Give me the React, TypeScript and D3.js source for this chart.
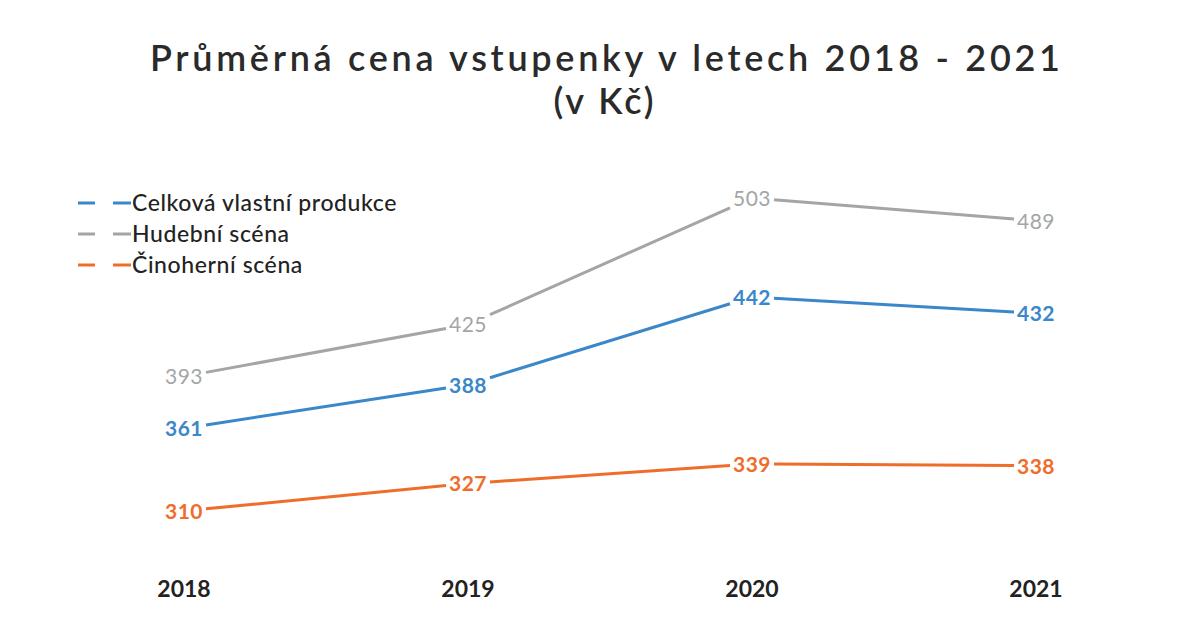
import React from "react";
import * as d3 from "d3";

const years = ["2018", "2019", "2020", "2021"];
const celkova = [361, 388, 442, 432];
const hudebni = [393, 425, 503, 489];
const cinoherni = [310, 327, 339, 338];
const seriesNames = ["Celková vlastní produkce", "Hudební scéna", "Činoherní scéna"];
const seriesColors = ["#3A87C9", "#A3A6A6", "#EF6D2A"];
const seriesBold = [true, false, true];
const titleLines = ["Průměrná cena vstupenky v letech 2018 - 2021", "(v Kč)"];

const W = 1199;
const H = 636;
const FONT = "Lato, 'Open Sans', sans-serif";

export default function App() {
  const x = d3.scalePoint<string>().domain(years).range([184, 1036]);
  const y = d3.scaleLinear().domain([310, 503]).range([511, 198]);
  const all = [celkova, hudebni, cinoherni];
  const gap = 22;

  return (
    <svg width={W} height={H} style={{ position: "absolute", left: 0, top: 0, background: "#fff" }}>
      <rect x={0} y={0} width={W} height={H} fill="#fff" />
      <text x={605} y={71} textAnchor="middle" fontFamily={FONT} fontSize={36} fontWeight={600}
        fill="#2a2a2a" textLength={910} lengthAdjust="spacing">{titleLines[0]}</text>
      <text x={605} y={114} textAnchor="middle" fontFamily={FONT} fontSize={36} fontWeight={600}
        fill="#2a2a2a" letterSpacing={3}>{titleLines[1]}</text>

      {seriesNames.map((n, i) => (
        <g key={n} transform={`translate(0, ${203 + i * 31})`}>
          <line x1={78} x2={95} y1={0} y2={0} stroke={seriesColors[i]} strokeWidth={3} />
          <line x1={113} x2={131} y1={0} y2={0} stroke={seriesColors[i]} strokeWidth={3} />
          <text x={132} y={8} fontFamily={FONT} fontSize={23} fontWeight={500} fill="#222"
            letterSpacing={0.6}>{n}</text>
        </g>
      ))}

      {all.map((vals, si) => (
        <g key={si}>
          {vals.slice(0, -1).map((v, i) => {
            const x0 = x(years[i])!, x1 = x(years[i + 1])!;
            const y0 = y(v), y1 = y(vals[i + 1]);
            const t0 = gap / (x1 - x0), t1 = 1 - gap / (x1 - x0);
            return (
              <line key={i} x1={x0 + (x1 - x0) * t0} y1={y0 + (y1 - y0) * t0}
                x2={x0 + (x1 - x0) * t1} y2={y0 + (y1 - y0) * t1}
                stroke={seriesColors[si]} strokeWidth={3} />
            );
          })}
          {vals.map((v, i) => (
            <text key={i} x={x(years[i])!} y={y(v) + 8} textAnchor="middle" fontFamily={FONT}
              fontSize={21} letterSpacing={0.5} fontWeight={seriesBold[si] ? 700 : 400}
              fill={seriesColors[si]}>{v}</text>
          ))}
        </g>
      ))}

      {years.map((yr) => (
        <text key={yr} x={x(yr)!} y={597} textAnchor="middle" fontFamily={FONT} fontSize={23}
          fontWeight={700} fill="#222">{yr}</text>
      ))}
    </svg>
  );
}
